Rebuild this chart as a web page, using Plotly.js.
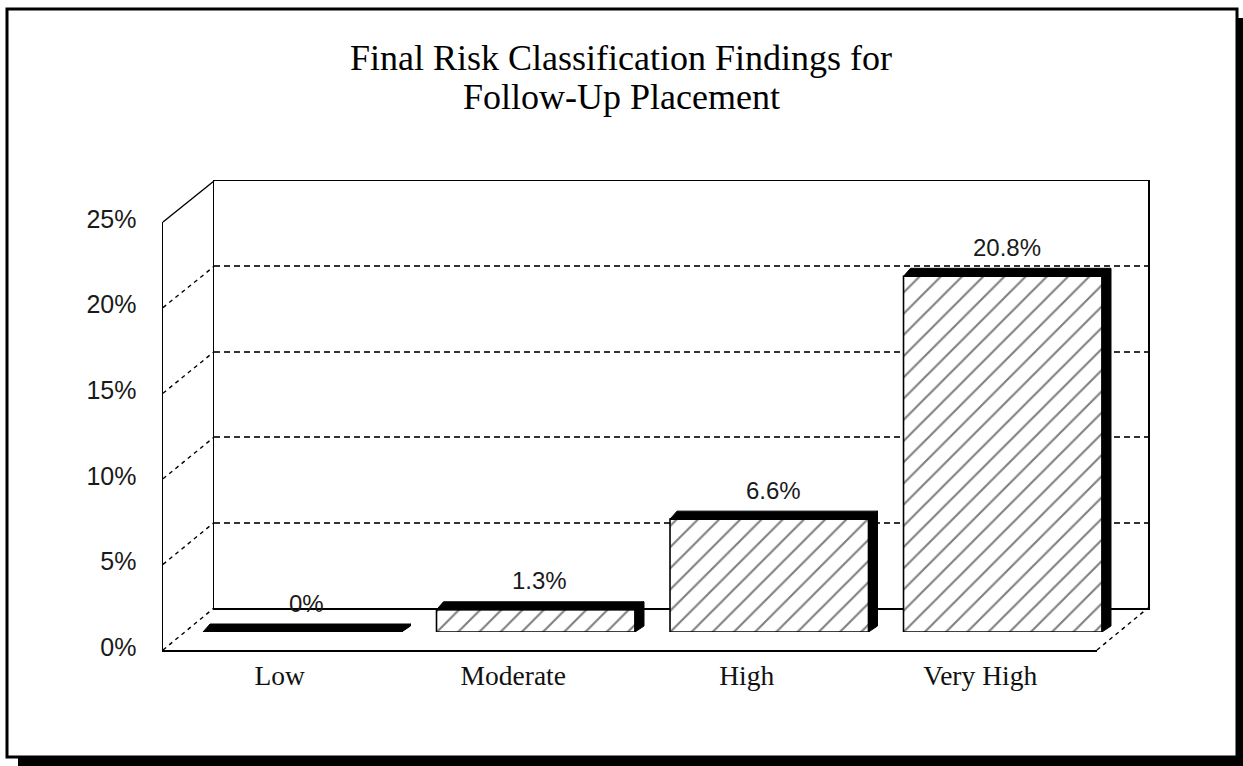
<!DOCTYPE html>
<html>
<head>
<meta charset="utf-8">
<script src="https://cdn.plot.ly/plotly-3.0.1.min.js"></script>
<style>
  html, body { margin: 0; padding: 0; background: #fff; }
  #chart { width: 1243px; height: 766px; }
</style>
</head>
<body>
<div id="chart"></div>
<script>
// Risk classification shares (percent of follow-up placements)
const categories = ['Low', 'Moderate', 'High', 'Very High'];
const shares = [0, 1.3, 6.6, 20.8];
const tickValues = [0, 5, 10, 15, 20, 25];
const tickLabels = ['0%', '5%', '10%', '15%', '20%', '25%'];
const titleLines = ['Final Risk Classification Findings for', 'Follow-Up Placement'];

// Page geometry (pixels)
const W = 1243, H = 766;
const VMAX = 25;
// front plane (axis labels), back wall, and the mid-depth plane where the bars stand
const front = { x0: 163, x1: 1097, y0: 650, y1: 222 };
const back  = { x0: 214, x1: 1148, y0: 608, y1: 181 };
const mid   = { x0: 185.5, x1: 1119.5, y0: 632, y1: 204.5 };
const DEPTH_X = 9, DEPTH_Y = 8;   // bar extrusion
const BARGAP = 0.15;

const fx = px => px / W;
const fy = py => 1 - py / H;
const planeY = (p, v) => p.y0 - (v / VMAX) * (p.y0 - p.y1);

const pxPerCat = (mid.x1 - mid.x0) / categories.length;
const pxPerPct = (mid.y0 - mid.y1) / VMAX;
const hw = (1 - BARGAP) * pxPerCat / 2;

const serif = 'Liberation Serif, Times New Roman, serif';
const sans = 'Liberation Sans, Arial, sans-serif';

const traces = [
  // back wall subplot (gridlines only)
  { x: [0, 1], y: [null, null], xaxis: 'x', yaxis: 'y', type: 'scatter', mode: 'markers',
    showlegend: false, hoverinfo: 'skip' },
  // front plane subplot (tick labels)
  { x: categories, y: categories.map(() => null), xaxis: 'x2', yaxis: 'y2', type: 'scatter',
    mode: 'markers', showlegend: false, hoverinfo: 'skip' },
  // bars
  { x: categories, y: shares, xaxis: 'x3', yaxis: 'y3', type: 'bar',
    marker: {
      color: '#ffffff',
      line: { color: '#000', width: 1.6 },
      pattern: { shape: '/', size: 15, solidity: 0.14, fgcolor: '#000', bgcolor: '#fff', fillmode: 'overlay' }
    },
    showlegend: false, hoverinfo: 'skip' }
];

const shapes = [];

// left side wall: diagonals linking the front axis to the back wall
tickValues.forEach(v => {
  shapes.push({
    type: 'line', xref: 'paper', yref: 'paper', layer: 'below',
    x0: fx(front.x0), y0: fy(planeY(front, v)),
    x1: fx(back.x0), y1: fy(planeY(back, v)),
    line: { color: '#000', width: 1.4, dash: v === VMAX ? 'solid' : '4px,4px' }
  });
});
// floor: right-hand diagonal
shapes.push({
  type: 'line', xref: 'paper', yref: 'paper', layer: 'below',
  x0: fx(front.x1), y0: fy(front.y0), x1: fx(back.x1), y1: fy(back.y0),
  line: { color: '#000', width: 1.4, dash: '4px,4px' }
});

// extruded top and right side of every bar
shares.forEach((v, i) => {
  const h = v * pxPerPct;
  shapes.push({
    type: 'path', xref: 'x3', yref: 'y3', xsizemode: 'pixel', ysizemode: 'pixel',
    xanchor: i, yanchor: v,
    path: `M ${-hw},0 L ${hw},0 L ${hw + DEPTH_X},${DEPTH_Y} L ${-hw + DEPTH_X - 2},${DEPTH_Y} Z`,
    fillcolor: '#000', line: { color: '#000', width: 1 }
  });
  shapes.push({
    type: 'path', xref: 'x3', yref: 'y3', xsizemode: 'pixel', ysizemode: 'pixel',
    xanchor: i, yanchor: 0,
    path: `M ${hw},0 L ${hw},${h} L ${hw + DEPTH_X},${h + DEPTH_Y} L ${hw + DEPTH_X},${DEPTH_Y - 2} Z`,
    fillcolor: '#000', line: { color: '#000', width: 1 }
  });
});

// page frame with drop shadow
shapes.push({
  type: 'rect', xref: 'paper', yref: 'paper',
  x0: fx(7), y0: fy(9), x1: fx(1237), y1: fy(757),
  line: { color: '#000', width: 3 }, fillcolor: 'rgba(0,0,0,0)'
});
shapes.push({
  type: 'rect', xref: 'paper', yref: 'paper',
  x0: fx(1236), y0: fy(18), x1: fx(1243), y1: fy(766),
  line: { width: 0 }, fillcolor: '#000'
});
shapes.push({
  type: 'rect', xref: 'paper', yref: 'paper',
  x0: fx(18), y0: fy(756), x1: fx(1243), y1: fy(766),
  line: { width: 0 }, fillcolor: '#000'
});

// value labels above the bars
const annotations = shares.map((v, i) => ({
  xref: 'x3', yref: 'y3', x: i, y: v,
  text: (v === 0 ? '0' : v.toFixed(1)) + '%',
  showarrow: false, xanchor: 'center', yanchor: 'middle',
  xshift: 4, yshift: 29,
  font: { family: sans, size: 24, color: '#1a1a1a' }
}));

// two-line chart heading
const titleY = [58, 97];
titleLines.forEach((t, k) => {
  annotations.push({
    xref: 'paper', yref: 'paper', x: fx(621), y: fy(titleY[k]),
    xanchor: 'center', yanchor: 'middle', showarrow: false,
    text: t, font: { family: serif, size: 36, color: '#000' }
  });
});

const layout = {
  width: W, height: H,
  margin: { l: 0, r: 0, t: 0, b: 0, pad: 0 },
  paper_bgcolor: '#fff',
  plot_bgcolor: 'rgba(0,0,0,0)',
  showlegend: false,
  bargap: BARGAP,
  // back wall
  xaxis: {
    domain: [fx(back.x0), fx(back.x1)], range: [0, 1], anchor: 'y',
    showgrid: false, zeroline: false, showticklabels: false, ticks: '',
    showline: true, mirror: true, linecolor: '#000', linewidth: 1.5, fixedrange: true
  },
  yaxis: {
    domain: [fy(back.y0), fy(back.y1)], range: [0, VMAX], anchor: 'x',
    tickvals: tickValues, showticklabels: false, ticks: '',
    showgrid: true, gridcolor: '#333', gridwidth: 2, griddash: '6px,4px', zeroline: false,
    showline: true, mirror: true, linecolor: '#000', linewidth: 1.5, fixedrange: true
  },
  // front plane: category and percent labels
  xaxis2: {
    domain: [fx(front.x0), fx(front.x1)], range: [-0.5, categories.length - 0.5], anchor: 'y2',
    type: 'category', categoryorder: 'array', categoryarray: categories,
    showgrid: false, zeroline: false, ticks: '', ticklabelstandoff: 0,
    tickfont: { family: serif, size: 27.5, color: '#111' },
    showline: true, linecolor: '#000', linewidth: 1.5, fixedrange: true
  },
  yaxis2: {
    domain: [fy(front.y0), fy(front.y1)], range: [0, VMAX], anchor: 'x2',
    tickvals: tickValues, ticktext: tickLabels, ticks: '', ticklabelstandoff: 20,
    ticklabelshift: -3,
    tickfont: { family: sans, size: 25, color: '#1a1a1a' },
    showgrid: false, zeroline: false,
    showline: true, linecolor: '#000', linewidth: 1.5, fixedrange: true
  },
  // bars at mid depth
  xaxis3: {
    domain: [fx(mid.x0), fx(mid.x1)], range: [-0.5, categories.length - 0.5], anchor: 'y3',
    type: 'category', categoryorder: 'array', categoryarray: categories,
    visible: false, fixedrange: true
  },
  yaxis3: {
    domain: [fy(mid.y0), fy(mid.y1)], range: [0, VMAX], anchor: 'x3',
    visible: false, fixedrange: true
  },
  shapes: shapes,
  annotations: annotations
};

Plotly.newPlot('chart', traces, layout, { staticPlot: true, displayModeBar: false });
</script>
</body>
</html>
